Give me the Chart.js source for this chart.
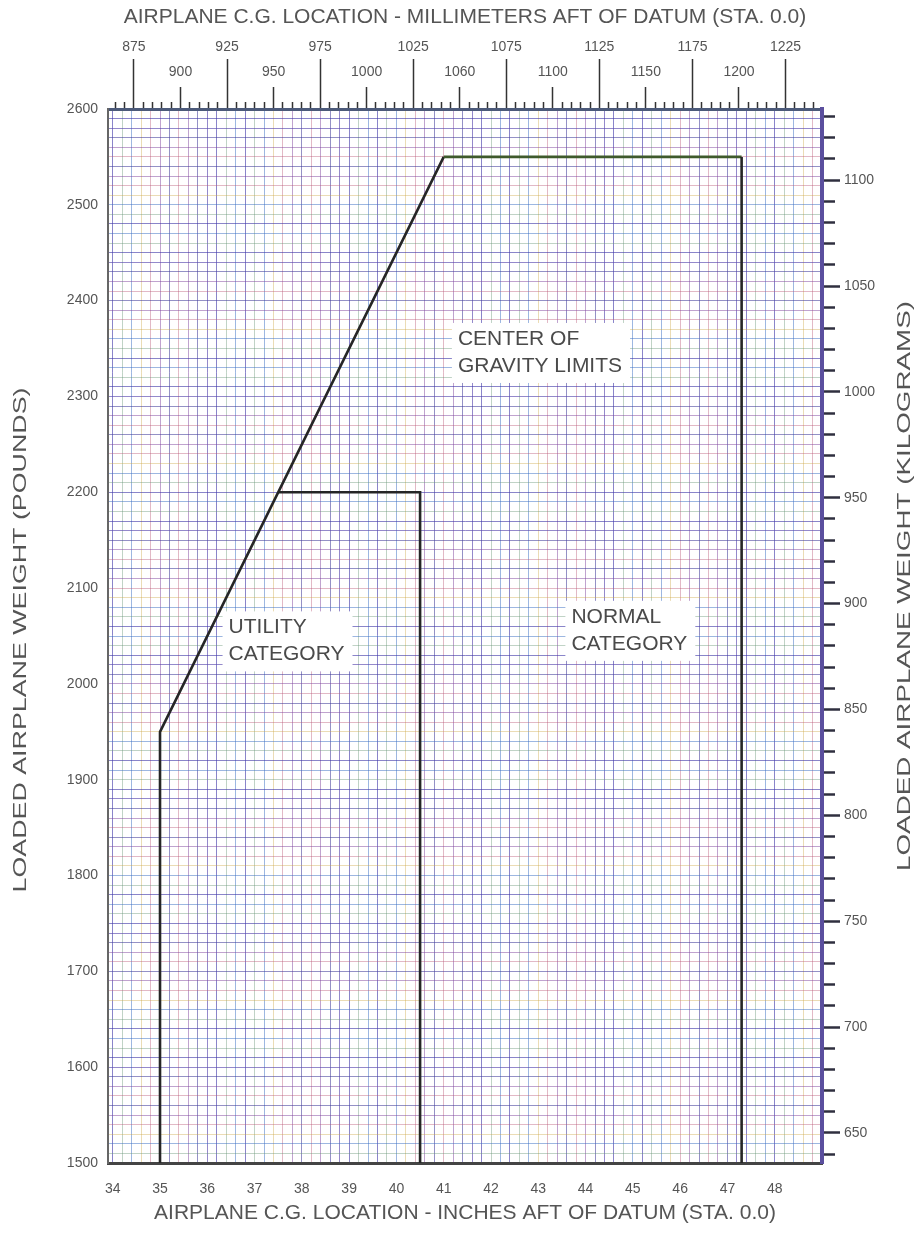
<!DOCTYPE html>
<html>
<head>
<meta charset="utf-8">
<title>Center of Gravity Limits</title>
<script src="https://cdn.jsdelivr.net/npm/chart.js@4.4.1/dist/chart.umd.min.js"></script>
<style>
  html, body { margin: 0; padding: 0; background: #fff; }
  #wrap { width: 918px; height: 1236px; position: relative; }
</style>
</head>
<body>
<div id="wrap"><canvas id="cgChart"></canvas></div>
<script>
// Envelope corners: arm in inches aft of datum, weight in pounds
const normalArm = [35.0, 35.0, 41.0, 47.3, 47.3];
const normalWeight = [1500, 1950, 2550, 2550, 1500];
const utilityArm = [37.5, 40.5, 40.5];
const utilityWeight = [2200, 2200, 1500];

// Axis labels
const inchLabels = [34, 35, 36, 37, 38, 39, 40, 41, 42, 43, 44, 45, 46, 47, 48];
const poundLabels = [1500, 1600, 1700, 1800, 1900, 2000, 2100, 2200, 2300, 2400, 2500, 2600];
const kgLabels = [650, 700, 750, 800, 850, 900, 950, 1000, 1050, 1100];
const mmLabels = [875, 900, 925, 950, 975, 1000, 1025, 1050, 1075, 1100, 1125, 1150, 1175, 1200, 1225];
const mmLabelText = ['875', '900', '925', '950', '975', '1000', '1025', '1060', '1075', '1100', '1125', '1150', '1175', '1200', '1225'];

// Text boxes on the plot (anchored in data units)
const notes = [
    { lines: ['CENTER OF', 'GRAVITY LIMITS'], arm: 41.3, weight: 2360 },
    { lines: ['UTILITY', 'CATEGORY'], arm: 36.45, weight: 2059 },
    { lines: ['NORMAL', 'CATEGORY'], arm: 43.7, weight: 2070 }
];

// Axis ranges as printed on the chart
const armMin = 33.9, armMax = 49.0;
const lbMin = 1500, lbMax = 2600;
const kgMin = 635.8, kgMax = 1133.6;

Chart.defaults.font.family = '"Liberation Sans", Arial, sans-serif';
Chart.defaults.color = '#555';

// graph paper look
const gridInk = [
    'rgba(66,58,170,0.62)', 'rgba(130,72,160,0.50)', 'rgba(60,112,196,0.50)',
    'rgba(92,76,176,0.66)', 'rgba(186,88,118,0.42)', 'rgba(104,150,120,0.42)',
    'rgba(70,66,156,0.58)', 'rgba(206,168,70,0.40)'
];
function gridColor(ctx) {
    const i = ctx.index || 0;
    return gridInk[(i * 5 + Math.floor(i / 7)) % gridInk.length];
}

function stepTicks(from, to, step) {
    const out = [];
    for (let v = from; v <= to + 1e-6; v += step) {
        out.push({ value: Math.round(v * 1000) / 1000 });
    }
    return out;
}

function toPoints(xs, ys) {
    return xs.map((x, i) => ({ x: x, y: ys[i] }));
}

const maxWeight = Math.max(...normalWeight);

function drawStretched(ctx, text, cx, cy, length) {
    ctx.save();
    ctx.font = '19px "Liberation Sans", Arial, sans-serif';
    ctx.fillStyle = '#555';
    const w = ctx.measureText(text).width;
    ctx.translate(cx, cy);
    ctx.rotate(-Math.PI / 2);
    ctx.scale(length / w, 1);
    ctx.textAlign = 'center';
    ctx.textBaseline = 'middle';
    ctx.fillText(text, 0, 0);
    ctx.restore();
}

const chartText = {
    id: 'chartText',
    beforeDatasetsDraw(chart) {
        const ctx = chart.ctx;
        const xs = chart.scales.x, ys = chart.scales.y;
        ctx.save();
        ctx.font = '21px "Liberation Sans", Arial, sans-serif';
        ctx.textAlign = 'left';
        ctx.textBaseline = 'middle';
        notes.forEach(n => {
            const x = xs.getPixelForValue(n.arm);
            const y = ys.getPixelForValue(n.weight);
            const w = Math.max(...n.lines.map(l => ctx.measureText(l).width));
            ctx.fillStyle = '#fff';
            ctx.fillRect(x - 6, y - 16, w + 14, n.lines.length * 27 + 6);
            ctx.fillStyle = '#4a4a4a';
            n.lines.forEach((l, i) => ctx.fillText(l, x, y + i * 27));
        });
        ctx.restore();
    },
    afterDraw(chart) {
        const area = chart.chartArea;
        drawStretched(chart.ctx, 'LOADED AIRPLANE WEIGHT (POUNDS)', 21, (area.top + area.bottom) / 2 + 4, 505);
        drawStretched(chart.ctx, 'LOADED AIRPLANE WEIGHT (KILOGRAMS)', 905, 586, 570);
    }
};

const ctx = document.getElementById('cgChart').getContext('2d');
new Chart(ctx, {
    type: 'line',
    data: {
        datasets: [
            {
                label: 'Normal category',
                data: toPoints(normalArm, normalWeight),
                borderColor: '#262626',
                borderWidth: 2.6,
                pointRadius: 0,
                fill: false,
                borderJoinStyle: 'miter',
                segment: {
                    borderColor: c => (c.p0.parsed.y === maxWeight && c.p1.parsed.y === maxWeight) ? '#3f5a2c' : undefined
                }
            },
            {
                label: 'Utility category',
                data: toPoints(utilityArm, utilityWeight),
                borderColor: '#262626',
                borderWidth: 2.6,
                pointRadius: 0,
                fill: false,
                borderJoinStyle: 'miter'
            }
        ]
    },
    options: {
        responsive: true,
        maintainAspectRatio: false,
        animation: false,
        layout: { padding: 0 },
        plugins: {
            legend: { display: false },
            tooltip: { enabled: false }
        },
        scales: {
            x: {
                type: 'linear',
                position: 'bottom',
                min: armMin,
                max: armMax,
                afterBuildTicks: s => { s.ticks = stepTicks(34, 49, 0.2); },
                afterFit: s => { s.height = 73; },
                ticks: {
                    autoSkip: false,
                    maxRotation: 0,
                    minRotation: 0,
                    padding: 18,
                    font: { size: 14 },
                    callback: v => inchLabels.includes(v) ? String(v) : ''
                },
                grid: { color: gridColor, lineWidth: 1, drawTicks: false },
                border: { color: '#444', width: 3 },
                title: {
                    display: true,
                    text: 'AIRPLANE C.G. LOCATION - INCHES AFT OF DATUM (STA. 0.0)',
                    font: { size: 21 },
                    padding: { top: 0, bottom: 10 }
                }
            },
            xTop: {
                type: 'linear',
                position: 'top',
                min: armMin * 25.4,
                max: armMax * 25.4,
                afterBuildTicks: s => { s.ticks = stepTicks(865, 1240, 5); },
                afterFit: s => { s.height = 109; },
                ticks: {
                    autoSkip: false,
                    maxRotation: 0,
                    minRotation: 0,
                    padding: -25.5,
                    font: { size: 14, lineHeight: 1.786 },
                    callback: v => {
                        const i = mmLabels.indexOf(v);
                        if (i < 0) return '';
                        return i % 2 === 0 ? [mmLabelText[i], ''] : mmLabelText[i];
                    }
                },
                grid: {
                    drawOnChartArea: false,
                    tickLength: 50,
                    tickColor: '#333',
                    tickWidth: 1.5,
                    tickBorderDash: c => {
                        const v = c.tick ? c.tick.value : 0;
                        if (v % 50 === 25) return [];
                        if (v % 50 === 0) return [0, 28, 22];
                        return [0, 43, 7];
                    }
                },
                border: { color: '#4c5a7a', width: 3 },
                title: {
                    display: true,
                    text: 'AIRPLANE C.G. LOCATION - MILLIMETERS AFT OF DATUM (STA. 0.0)',
                    font: { size: 21 },
                    padding: { top: 5, bottom: 0 }
                }
            },
            y: {
                type: 'linear',
                position: 'left',
                min: lbMin,
                max: lbMax,
                afterBuildTicks: s => { s.ticks = stepTicks(lbMin, lbMax, 10); },
                afterFit: s => { s.width = 108; },
                ticks: {
                    autoSkip: false,
                    padding: 10,
                    font: { size: 14 },
                    callback: v => poundLabels.includes(v) ? String(v) : ''
                },
                grid: { color: gridColor, lineWidth: 1, drawTicks: false },
                border: { color: '#666', width: 2 }
            },
            yKg: {
                type: 'linear',
                position: 'right',
                min: kgMin,
                max: kgMax,
                afterBuildTicks: s => { s.ticks = stepTicks(640, 1130, 10); },
                afterFit: s => { s.width = 96; },
                ticks: {
                    autoSkip: false,
                    padding: 4,
                    font: { size: 14 },
                    callback: v => kgLabels.includes(v) ? String(v) : ''
                },
                grid: {
                    drawOnChartArea: false,
                    tickLength: 18,
                    tickColor: '#2f2f3f',
                    tickWidth: 2.5,
                    tickBorderDash: c => {
                        const v = c.tick ? c.tick.value : 0;
                        return v % 50 === 0 ? [] : [11, 60];
                    }
                },
                border: { color: '#5b4f9e', width: 4 }
            }
        }
    },
    plugins: [chartText]
});
</script>
</body>
</html>
